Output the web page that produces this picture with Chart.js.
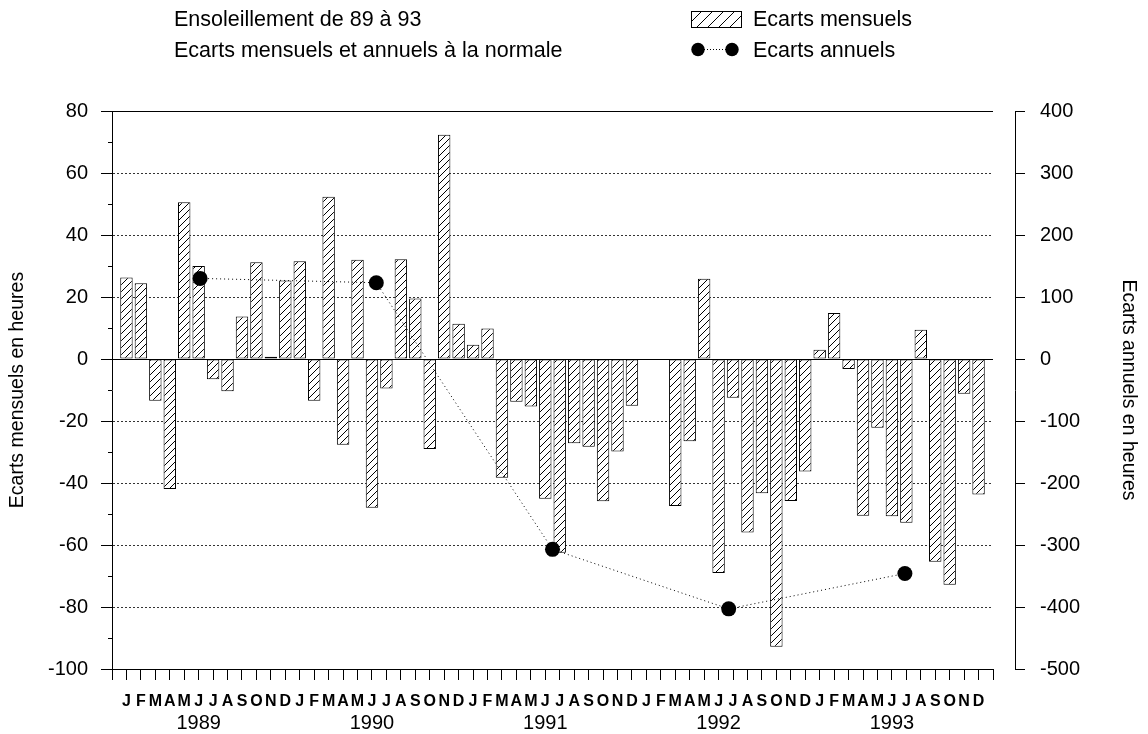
<!DOCTYPE html>
<html lang="fr">
<head>
<meta charset="utf-8">
<title>Ensoleillement de 89 à 93</title>
<script src="https://cdn.jsdelivr.net/npm/chart.js@4.4.1/dist/chart.umd.min.js"></script>
<style>
  html, body { margin: 0; padding: 0; background: #fff; }
  #wrap { position: relative; width: 1148px; height: 734px; font-family: "Liberation Sans", Arial, sans-serif; color: #000; }
  #wrap > canvas#chart { position: absolute; left: 0; top: 0; }
  .hd { position: absolute; font-size: 21.5px; line-height: 20px; white-space: nowrap; }
  #swatch { position: absolute; left: 691px; top: 11px; }
  #dotsKey { position: absolute; left: 690px; top: 41px; }
</style>
</head>
<body>
<div id="wrap">
  <canvas id="chart" width="1148" height="734"></canvas>
  <div class="hd" style="left:174px;top:9px">Ensoleillement de 89 à 93</div>
  <div class="hd" style="left:174px;top:40px">Ecarts mensuels et annuels à la normale</div>
  <canvas id="swatch" width="51" height="17"></canvas>
  <div class="hd" style="left:753px;top:9px">Ecarts mensuels</div>
  <svg id="dotsKey" width="52" height="17" viewBox="0 0 52 17">
    <line x1="8" y1="8.5" x2="42" y2="8.5" stroke="#000" stroke-width="1" stroke-dasharray="1 2"/>
    <circle cx="8" cy="8.5" r="6.7" fill="#000"/>
    <circle cx="42" cy="8.5" r="6.7" fill="#000"/>
  </svg>
  <div class="hd" style="left:753px;top:40px">Ecarts annuels</div>
</div>
<script>
// Monthly sunshine deviations from normal (hours), January to December
const monthLetters = ['J', 'F', 'M', 'A', 'M', 'J', 'J', 'A', 'S', 'O', 'N', 'D'];
const yearLabels = ['1989', '1990', '1991', '1992', '1993'];

const ecarts1989 = [26.3, 24.4, -13.5, -41.9, 50.6, 30.0, -6.5, -10.4, 13.7, 31.2, 0.7, 25.3];
const ecarts1990 = [31.5, -13.5, 52.3, -27.7, 32.0, -48.0, -9.5, 32.2, 19.5, -29.0, 72.3, 11.4];
const ecarts1991 = [4.6, 9.8, -38.3, -13.8, -15.3, -45.1, -62.5, -27.2, -28.3, -45.9, -29.8, -15.1];
const ecarts1992 = [null, null, -47.4, -26.5, 25.9, -69.0, -12.5, -56.0, -43.3, -92.8, -45.8, -36.3];
const ecarts1993 = [3.0, 14.8, -3.2, -50.6, -22.2, -50.7, -52.8, 9.4, -65.4, -72.8, -11.2, -43.7];

// Yearly totals of the deviations (hours)
const ecartsAnnuels = [130, 123, -307, -403, -346];

// Axis ranges
const monthlyAxis = { min: -100, max: 80, step: 20, minorStep: 10 };
const annualAxis = { min: -500, max: 400, step: 100 };

const FONT = '"Liberation Sans", Arial, sans-serif';

// Month slots: one empty slot at each end of the time axis
const monthly = [].concat(ecarts1989, ecarts1990, ecarts1991, ecarts1992, ecarts1993);
const slotLabels = [''].concat(yearLabels.flatMap(() => monthLetters), ['']);
const slotValues = [null].concat(monthly, [null]);
// Year names sit under the June slot of each year
const yearRow = slotLabels.map((_, i) => (i >= 1 && (i - 1) % 12 === 5) ? yearLabels[Math.floor((i - 1) / 12)] : '');

// Diagonal hatching used to fill the monthly bars
function hatchTile(size) {
  const c = document.createElement('canvas');
  c.width = size; c.height = size;
  const g = c.getContext('2d');
  g.fillStyle = '#fff';
  g.fillRect(0, 0, size, size);
  g.strokeStyle = '#000';
  g.lineWidth = 1;
  g.beginPath();
  g.moveTo(0, size); g.lineTo(size, 0);
  g.moveTo(-1, 1); g.lineTo(1, -1);
  g.moveTo(size - 1, size + 1); g.lineTo(size + 1, size - 1);
  g.stroke();
  return c;
}
const chartCanvas = document.getElementById('chart');
const hatch = chartCanvas.getContext('2d').createPattern(hatchTile(7), 'repeat');

// Key swatch for the monthly series
(function drawSwatch() {
  const sw = document.getElementById('swatch');
  const g = sw.getContext('2d');
  g.fillStyle = g.createPattern(hatchTile(11), 'repeat');
  g.fillRect(0.5, 0.5, 50, 16);
  g.strokeStyle = '#000';
  g.lineWidth = 1;
  g.strokeRect(0.5, 0.5, 50, 16);
})();

new Chart(chartCanvas, {
  type: 'bar',
  data: {
    labels: slotLabels,
    datasets: [
      {
        type: 'line',
        label: 'Ecarts annuels',
        data: ecartsAnnuels,
        xAxisID: 'xYear',
        yAxisID: 'y2',
        borderColor: '#000',
        borderWidth: 1,
        borderDash: [1, 3],
        pointRadius: 7.5,
        pointBackgroundColor: '#000',
        pointBorderColor: '#000',
        pointBorderWidth: 0,
        fill: false,
        tension: 0,
        order: 1
      },
      {
        type: 'bar',
        label: 'Ecarts mensuels',
        data: slotValues,
        xAxisID: 'x',
        yAxisID: 'y',
        backgroundColor: hatch,
        borderColor: '#000',
        borderWidth: 1,
        borderSkipped: false,
        grouped: false,
        barPercentage: 0.86,
        categoryPercentage: 1,
        order: 2
      }
    ]
  },
  options: {
    responsive: false,
    devicePixelRatio: 1,
    animation: false,
    layout: { padding: { top: 111, right: 0, bottom: 0, left: 0 } },
    plugins: {
      legend: { display: false },
      tooltip: { enabled: false },
      title: { display: false }
    },
    scales: {
      x: {
        type: 'category',
        labels: slotLabels,
        position: 'bottom',
        weight: 0,
        offset: false,
        grid: { display: true, drawOnChartArea: false, offset: false, tickLength: 11, tickColor: '#000', tickWidth: 1 },
        border: { display: true, color: '#000', width: 1 },
        ticks: {
          autoSkip: false, maxRotation: 0, minRotation: 0, padding: 12, color: '#000',
          font: { family: FONT, size: 16, weight: 'bold' }
        },
        afterFit(s) { s.height = 40; }
      },
      x2: {
        type: 'category',
        labels: yearRow,
        position: 'bottom',
        weight: 1,
        offset: false,
        grid: { display: false, drawTicks: false },
        border: { display: false },
        ticks: {
          autoSkip: false, maxRotation: 0, minRotation: 0, padding: 2, color: '#000',
          font: { family: FONT, size: 20 }
        },
        afterFit(s) { s.height = 25; }
      },
      xYear: {
        type: 'category',
        labels: yearLabels,
        offset: true,
        display: false
      },
      y: {
        type: 'linear',
        position: 'left',
        min: monthlyAxis.min,
        max: monthlyAxis.max,
        ticks: {
          stepSize: monthlyAxis.minorStep,
          autoSkip: false,
          padding: 13,
          color: '#000',
          font: { family: FONT, size: 20 },
          callback: v => (v % monthlyAxis.step === 0 ? String(v) : '')
        },
        grid: {
          lineWidth: 1,
          tickLength: 11,
          tickColor: '#000',
          color: c => {
            if (!c.tick) return '#000';
            const v = c.tick.value;
            if (v === monthlyAxis.max || v === 0) return '#000';
            if (v === monthlyAxis.min || v % monthlyAxis.step !== 0) return 'rgba(0,0,0,0)';
            return '#333';
          },
          tickBorderDash: c => (c.tick && c.tick.value % monthlyAxis.step !== 0) ? [0, 7, 4, 30] : []
        },
        border: {
          display: true, color: '#000', width: 1,
          dash: c => (c.tick && c.tick.value !== 0 && c.tick.value !== monthlyAxis.max) ? [2, 2] : []
        },
        title: {
          display: true, text: 'Ecarts mensuels en heures', color: '#000',
          font: { family: FONT, size: 19.5 }, padding: { top: 6, bottom: 0 }
        },
        afterFit(s) { s.width = 112; }
      },
      gap: {
        type: 'linear',
        position: 'right',
        weight: 0,
        grid: { display: false },
        border: { display: false },
        ticks: { display: false },
        afterFit(s) { s.width = 22; }
      },
      y2: {
        type: 'linear',
        position: 'right',
        weight: 1,
        min: annualAxis.min,
        max: annualAxis.max,
        ticks: {
          stepSize: annualAxis.step,
          autoSkip: false,
          padding: 15,
          color: '#000',
          font: { family: FONT, size: 20 }
        },
        grid: { drawOnChartArea: false, tickLength: 10, tickColor: '#000' },
        border: { display: true, color: '#000', width: 1 },
        title: {
          display: true, text: 'Ecarts annuels en heures', color: '#000',
          font: { family: FONT, size: 19.5 }, padding: { top: 8, bottom: 0 }
        },
        afterFit(s) { s.width = 133; }
      }
    }
  }
});
</script>
</body>
</html>
